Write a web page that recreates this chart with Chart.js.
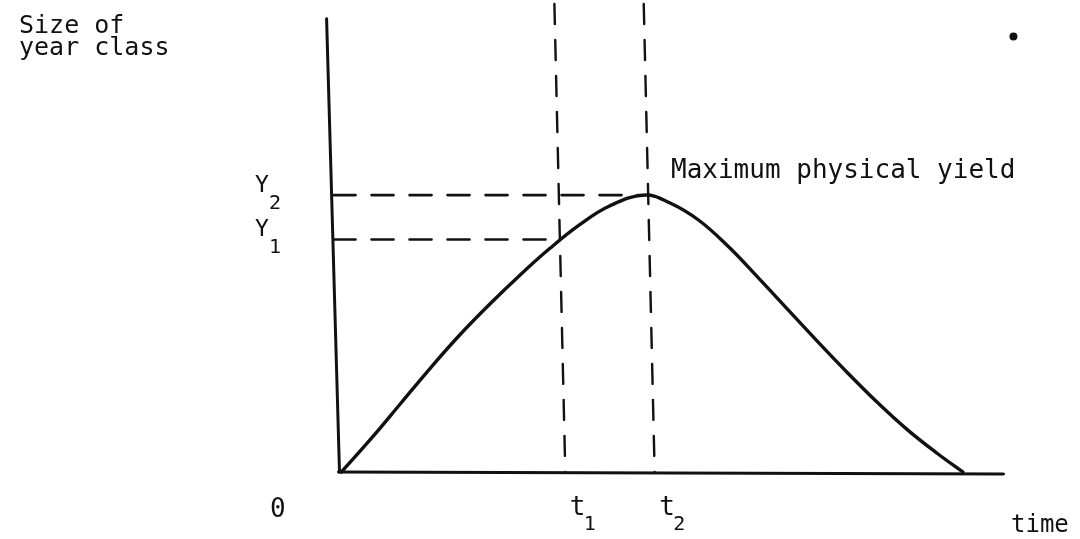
<!DOCTYPE html>
<html>
<head>
    <title>Size of year class over time</title>
    <script src="https://cdn.jsdelivr.net/npm/chart.js"></script>
    <style>
        html, body { margin: 0; padding: 0; background: #ffffff; }
        #wrap { width: 1080px; height: 539px; }
    </style>
</head>
<body>
    <div id="wrap">
        <canvas id="yieldChart" width="1080" height="539"></canvas>
    </div>

    <script>
        // growth curve of the year class (time, size)
        const timeVals = [0, 3, 6, 9, 12, 15, 18, 21, 24, 27, 30.5, 33, 36, 39, 42, 45, 48, 51, 54, 57, 60, 62.6];
        const sizeVals = [0, 3.4, 7.0, 10.6, 14.0, 17.1, 20.0, 22.7, 25.1, 27.0, 28.1, 27.35, 25.55, 22.85, 19.7, 16.45, 13.2, 10.05, 7.05, 4.3, 1.9, 0];

        // marked times and yields
        const tMarks = [22, 31];        // t1, t2
        const yMarks = [23.6, 28.1];    // Y1, Y2
        const tLabels = ['1', '2'];
        const yLabels = ['1', '2'];

        // axis extents
        const timeMax = 66.7;
        const sizeMax = 46;

        const ink = '#111111';
        const pts = (xs, ys) => xs.map((x, i) => ({ x: x, y: ys[i] }));

        const datasets = [
            { // growth curve
                data: pts(timeVals, sizeVals),
                borderColor: ink, borderWidth: 3.4, tension: 0.4, pointRadius: 0
            },
            { // y axis (slightly skewed like the scan)
                data: [{ x: -1.5, y: sizeMax }, { x: -0.2, y: 0 }],
                borderColor: ink, borderWidth: 3, pointRadius: 0
            },
            { // x axis
                data: [{ x: -0.3, y: 0 }, { x: timeMax, y: -0.2 }],
                borderColor: ink, borderWidth: 3, pointRadius: 0
            }
        ];

        // vertical dashed guides at t1, t2
        tMarks.forEach(t => {
            datasets.push({
                data: [{ x: t - 0.55, y: 47.5 }, { x: t + 0.55, y: 0 }],
                borderColor: ink, borderWidth: 2.4, borderDash: [20, 16], pointRadius: 0
            });
        });
        // horizontal dashed guides at Y1, Y2
        yMarks.forEach((v, i) => {
            datasets.push({
                data: [{ x: -0.8, y: v }, { x: tMarks[i] - (i ? 0.5 : 0), y: v }],
                borderColor: ink, borderWidth: 2.6, borderDash: [22, 16], pointRadius: 0
            });
        });
        // stray dot in the upper right
        datasets.push({
            data: [{ x: 67.7, y: 44.2 }],
            showLine: false, pointRadius: 4, pointBackgroundColor: ink, pointBorderWidth: 0
        });

        // text labels drawn on the canvas
        const labelPlugin = {
            id: 'labels',
            afterDraw(chart) {
                const ctx = chart.ctx;
                const xs = chart.scales.x, ys = chart.scales.y;
                ctx.save();
                ctx.fillStyle = ink;
                ctx.textBaseline = 'alphabetic';
                ctx.textAlign = 'left';
                const mono = 'DejaVu Sans Mono';

                ctx.font = '25px "' + mono + '"';
                ctx.fillText('Size of', 19, 33);
                ctx.fillText('year class', 19, 55);

                // Y1 / Y2
                yMarks.forEach((v, i) => {
                    const py = ys.getPixelForValue(v);
                    ctx.font = '23px "' + mono + '"';
                    ctx.fillText('Y', 255, py - 3);
                    ctx.font = '20px "' + mono + '"';
                    ctx.fillText(yLabels[i], 269, py + 14);
                });

                // t1 / t2
                tMarks.forEach((t, i) => {
                    const px = xs.getPixelForValue(t) + 10;
                    ctx.font = '26px "' + mono + '"';
                    ctx.fillText('t', px, 515);
                    ctx.font = '20px "' + mono + '"';
                    ctx.fillText(tLabels[i], px + 14, 530);
                });

                ctx.font = '26px "' + mono + '"';
                ctx.fillText('0', 270, 517);
                ctx.font = '24px "' + mono + '"';
                ctx.fillText('time', 1011, 532);
                ctx.font = '26px "' + mono + '"';
                ctx.fillText('Maximum physical yield', 671, 178);
                ctx.restore();
            }
        };

        window.onload = () => {
            const ctx = document.getElementById('yieldChart').getContext('2d');
            new Chart(ctx, {
                type: 'line',
                data: { datasets: datasets },
                options: {
                    responsive: false,
                    animation: false,
                    events: [],
                    layout: { padding: 0 },
                    elements: { line: { fill: false, borderCapStyle: 'round' } },
                    datasets: { line: { clip: false } },
                    plugins: { legend: { display: false }, tooltip: { enabled: false } },
                    scales: {
                        x: { type: 'linear', min: -34, max: 74, display: false },
                        y: { type: 'linear', min: -6.4, max: 47.5, display: false }
                    }
                },
                plugins: [labelPlugin]
            });
        };
    </script>
</body>
</html>
